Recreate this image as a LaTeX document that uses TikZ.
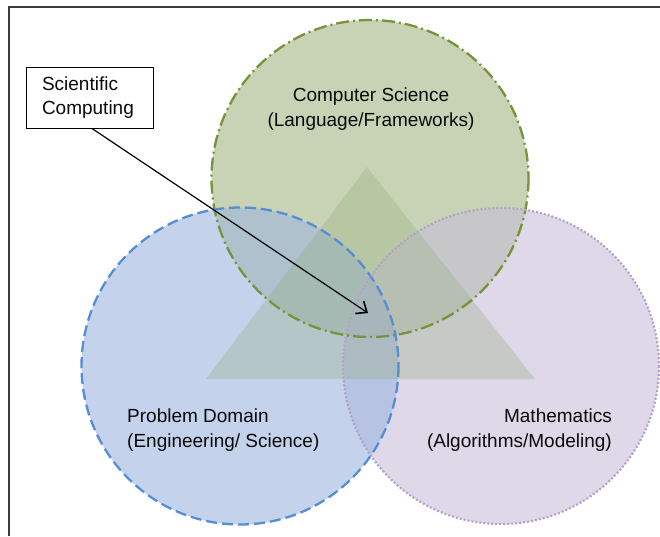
\documentclass[tikz,border=0pt]{standalone}
\usepackage{fontspec}
\setmainfont{Liberation Sans}
\usetikzlibrary{arrows.meta}

\definecolor{csfill}{RGB}{163,183,130}
\definecolor{csline}{RGB}{119,147,60}
\definecolor{pdfill}{RGB}{158,182,223}
\definecolor{pdline}{RGB}{85,142,213}
\definecolor{mafill}{RGB}{200,191,218}
\definecolor{maline}{RGB}{179,162,199}
\definecolor{trifill}{RGB}{150,172,128}
\definecolor{framecol}{RGB}{60,60,60}
\definecolor{txt}{RGB}{10,10,10}

\begin{document}
\begin{tikzpicture}[x=1pt,y=-1pt,
  venn/.style={fill opacity=0.6},
  lbl/.style={inner sep=0pt,text=txt,font=\fontsize{19}{25}\selectfont},
  callout/.style={draw=black,line width=1pt,fill=white,text=txt,
    font=\fontsize{19}{24}\selectfont,align=left,text width=95pt,
    inner xsep=16pt,inner ysep=0pt,minimum height=61pt},
  pointer/.style={draw=black,line width=1.2pt,
    -{Straight Barb[length=9pt,width=15pt,line width=1.6pt]}}]

\useasboundingbox (0,0) rectangle (660,536);
\fill[white] (0,0) rectangle (660,536);

% outer frame (left and top edges)
\draw[framecol,line width=1.4pt] (9,536) -- (9,7) -- (660,7);

% circle fills
\fill[csfill,venn] (370,178.5) circle (158.5);
\fill[mafill,venn] (501,366) circle (158);
\fill[pdfill,venn] (240,366) circle (158.5);

% central triangle
\fill[trifill,fill opacity=0.32] (367,167) -- (535,379) -- (206,379) -- cycle;

% circle outlines
\draw[csline,line width=2.3pt,dash pattern=on 13pt off 4pt on 2pt off 4pt]
  (370,178.5) circle (158.5);
\draw[pdline,line width=2.3pt,dash pattern=on 11pt off 5pt]
  (240,366) circle (158.5);
\draw[maline,line width=2.1pt,dash pattern=on 2pt off 2pt]
  (501,366) circle (158);

% labels
\node[lbl,align=center] (cs) at (371,109.5) {Computer Science\\(Language/Frameworks)};
\node[lbl,align=left,anchor=west] (pd) at (127,430.5) {Problem Domain\\(Engineering/ Science)};
\node[lbl,align=right,anchor=east] (ma) at (612,430.5) {Mathematics\\(Algorithms/Modeling)};

% callout and pointer into the common region
\node[callout] (sc) at (89.5,97.5) {Scientific\\Computing};
\coordinate (core) at (368,313);
\draw[pointer] (sc.south) ++(2.5pt,0) -- (core);
\end{tikzpicture}
\end{document}
